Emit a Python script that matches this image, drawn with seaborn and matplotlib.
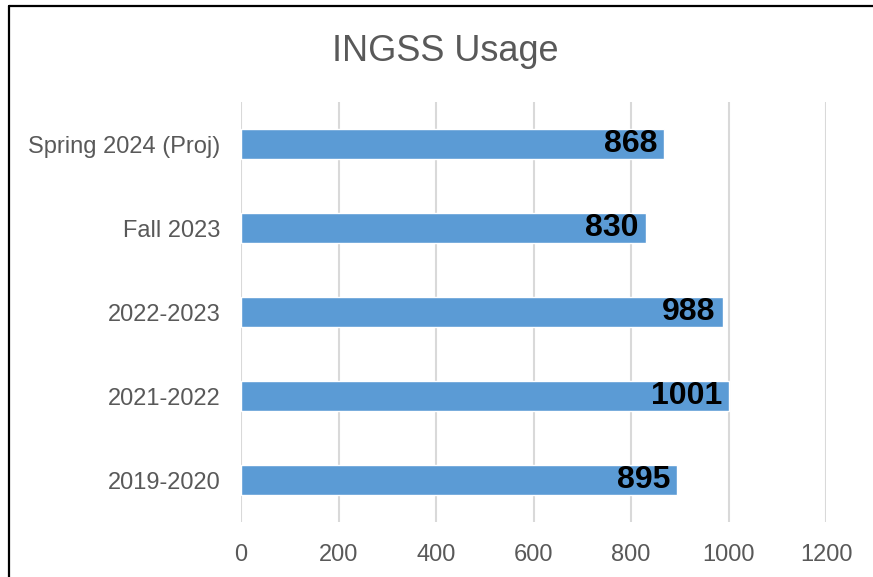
import matplotlib
matplotlib.use("Agg")
import matplotlib.pyplot as plt
from matplotlib.lines import Line2D
from matplotlib.transforms import offset_copy
import seaborn as sns
import pandas as pd

# chart data, top to bottom
periods = ["Spring 2024 (Proj)", "Fall 2023", "2022-2023", "2021-2022", "2019-2020"]
usage = [868, 830, 988, 1001, 895]
x_ticks = [0, 200, 400, 600, 800, 1000, 1200]

df = pd.DataFrame({"period": periods, "usage": usage})

sns.set_style("white")
plt.rcParams["font.family"] = ["Liberation Sans", "DejaVu Sans"]

fig = plt.figure(figsize=(8.73, 5.77), dpi=100)
ax = fig.add_axes([241 / 873, 55 / 577, 585 / 873, 420 / 577])

sns.barplot(data=df, x="usage", y="period", order=periods, color="#5B9BD5",
            saturation=1, width=0.35, orient="h", ax=ax, zorder=3)

ax.set_xlim(0, 1200)
ax.set_ylim(4.5, -0.5)
ax.set_xticks(x_ticks)
ax.set_xticklabels([str(t) for t in x_ticks])
ax.grid(axis="x", color="#D9D9D9", linewidth=1.5, zorder=0)
ax.grid(axis="y", visible=False)
ax.set_axisbelow(True)
for side in ["top", "right", "bottom", "left"]:
    ax.spines[side].set_visible(False)
ax.tick_params(axis="x", length=0, pad=16, labelsize=17, labelcolor="#595959")
ax.tick_params(axis="y", length=0, pad=15, labelsize=17, labelcolor="#595959")
ax.set_xlabel("")
ax.set_ylabel("")

# value labels inside the bar ends
shifted = offset_copy(ax.transData, fig=fig, x=-7, y=0, units="dots")
for i, v in enumerate(usage):
    ax.text(v, i, str(v), transform=shifted, ha="right", va="center",
            fontsize=23, fontweight="bold", color="black", zorder=4)

fig.text(445 / 873, (577 - 61) / 577, "INGSS Usage", ha="center", va="baseline",
         fontsize=26, color="#595959")

# frame of the original chart image (top and left edges)
fig.add_artist(Line2D([8.5 / 873, 1.0], [1 - 5.5 / 577, 1 - 5.5 / 577],
                      transform=fig.transFigure, color="black", linewidth=1.6))
fig.add_artist(Line2D([8.5 / 873, 8.5 / 873], [0, 1 - 5.5 / 577],
                      transform=fig.transFigure, color="black", linewidth=1.6))

fig.savefig("out.png", dpi=100)
